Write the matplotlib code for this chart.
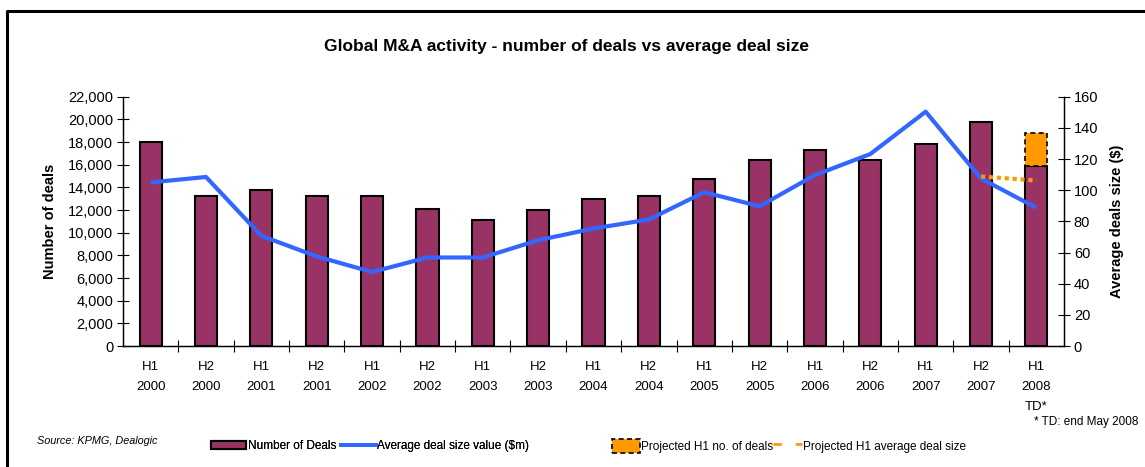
import matplotlib
matplotlib.use("Agg")
import matplotlib.pyplot as plt
from matplotlib.lines import Line2D
from matplotlib.patches import Patch
from matplotlib.ticker import FuncFormatter, MultipleLocator

plt.rcParams['font.family'] = ['Liberation Sans', 'DejaVu Sans']

# data
periods = ["H1\n2000", "H2\n2000", "H1\n2001", "H2\n2001", "H1\n2002", "H2\n2002",
           "H1\n2003", "H2\n2003", "H1\n2004", "H2\n2004", "H1\n2005", "H2\n2005",
           "H1\n2006", "H2\n2006", "H1\n2007", "H2\n2007", "H1\n2008\nTD*"]
num_deals = [18000, 13200, 13800, 13200, 13200, 12100, 11100, 12000, 13000, 13200,
             14700, 16400, 17300, 16400, 17850, 19750, 15900]
avg_deal_size = [105, 108.5, 70.7, 57.5, 47.5, 56.8, 56.8, 67.9, 75.4, 81.2,
                 98.7, 89.7, 109.7, 123.2, 150.4, 107.5, 88.7]
projected_deals_h1_2008 = 18800
projected_avg_periods = [15, 16]
projected_avg_size = [108.8, 106.2]

bar_color = "#993366"
line_color = "#3366FF"
orange = "#FF9900"

fig = plt.figure(figsize=(11.45, 4.67), dpi=100)
ax = fig.add_axes([0.1074, 0.2591, 0.8219, 0.5338])
ax2 = ax.twinx()

x = list(range(len(periods)))
ax.bar(x, num_deals, width=0.4, color=bar_color, edgecolor="black", linewidth=1.5, zorder=2)
ax.bar(x[-1], projected_deals_h1_2008 - num_deals[-1], bottom=num_deals[-1], width=0.4,
       color=orange, edgecolor="black", linewidth=1.2, linestyle=(0, (3, 2)), zorder=2)

ax2.plot(x, avg_deal_size, color=line_color, linewidth=3, solid_capstyle="butt")
ax2.plot(projected_avg_periods, projected_avg_size, color=orange, linewidth=3,
         linestyle=(0, (1, 0.9)))

ax.set_xlim(-0.5, len(periods) - 0.5)
ax.set_ylim(0, 22000)
ax2.set_ylim(0, 160)
ax.yaxis.set_major_locator(MultipleLocator(2000))
ax.yaxis.set_major_formatter(FuncFormatter(lambda v, p: f"{int(v):,}"))
ax2.yaxis.set_major_locator(MultipleLocator(20))

ax.set_xticks(x)
ax.set_xticklabels(periods, fontsize=9.5, linespacing=1.85)
ax.set_xticks([i + 0.5 for i in x[:-1]], minor=True)
ax.tick_params(axis="x", which="major", length=0, pad=11)
ax.tick_params(axis="x", which="minor", direction="inout", length=8, width=0.8)
ax.tick_params(axis="y", direction="inout", length=8, width=0.8, labelsize=10.5, pad=3)
ax2.tick_params(axis="y", direction="inout", length=8, width=0.8, labelsize=10.5, pad=3)

for a in (ax, ax2):
    a.spines["top"].set_visible(False)
    for s in ("left", "right", "bottom"):
        a.spines[s].set_linewidth(0.9)

ax.set_ylabel("Number of deals", fontsize=10.5, fontweight="bold", labelpad=8)
ax2.set_ylabel("Average deals size ($)", fontsize=10.5, fontweight="bold", labelpad=8)

fig.text(0.495, 0.9, "Global M&A activity - number of deals vs average deal size",
         ha="center", va="center", fontsize=12.5, fontweight="bold")
fig.text(0.994, 0.097, "* TD: end May 2008", ha="right", va="center", fontsize=8.5)
fig.text(0.032, 0.055, "Source: KPMG, Dealogic", ha="left", va="center",
         fontsize=7.8, style="italic")

h1 = Patch(facecolor=bar_color, edgecolor="black", linewidth=1.5)
h2 = Line2D([], [], color=line_color, linewidth=2.8)
leg1 = fig.legend([h1, h2], ["Number of Deals", "Average deal size value ($m)"],
                  loc="center left", bbox_to_anchor=(0.175, 0.045), ncol=2, frameon=False,
                  fontsize=8.5, handlelength=3.0, handletextpad=0.1, columnspacing=0.4)
h3 = Patch(facecolor=orange, edgecolor="black", linewidth=1.2, linestyle=(0, (3, 2)))
h4 = Line2D([], [], color=orange, linewidth=2, linestyle=(0, (3, 5)))
fig.legend([h3, h4], ["Projected H1 no. of deals", "Projected H1 average deal size"],
           loc="center left", bbox_to_anchor=(0.525, 0.045), ncol=2, frameon=False,
           fontsize=8.5, handlelength=2.4, handleheight=1.4, handletextpad=0.1,
           columnspacing=0.0)
fig.add_artist(leg1)

# outer frame (left and top edges visible)
fig.add_artist(Line2D([0.0065, 0.0065, 1.0], [0.0, 0.976, 0.976], color="black",
                      linewidth=2.2, transform=fig.transFigure))

fig.savefig("out.png", dpi=100)
